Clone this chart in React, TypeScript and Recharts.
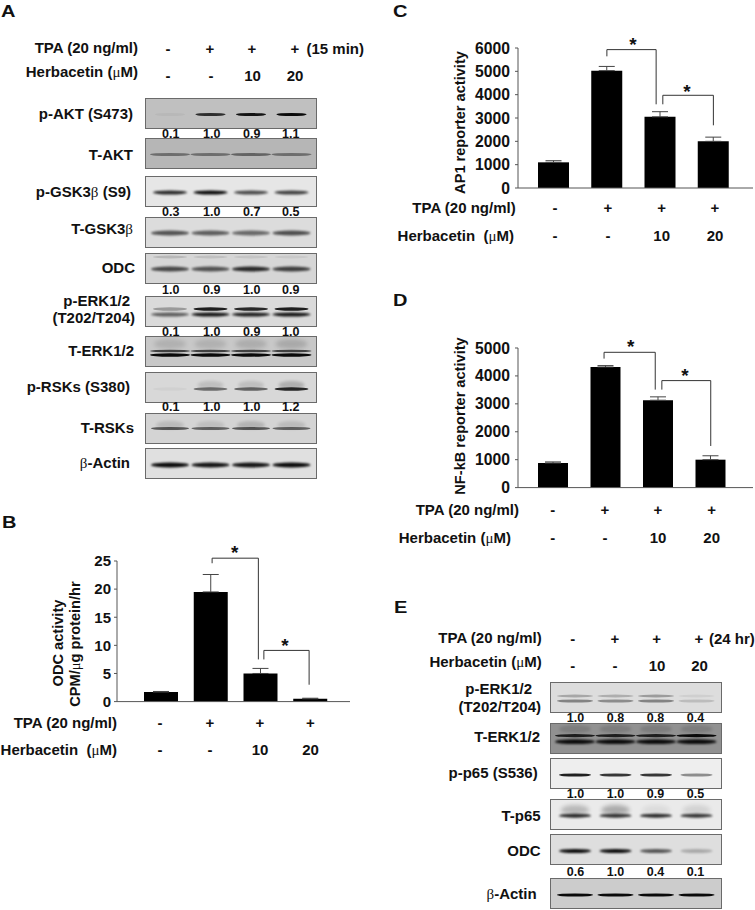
import React from "react";
import { BarChart, Bar, XAxis, YAxis, ErrorBar, ReferenceLine } from "recharts";

const FONT = "'Liberation Sans', Arial, sans-serif";
const lanes = ["Control", "TPA", "TPA+H10", "TPA+H20"];

// ---- Bar chart values ----
const odcValues = [1.7, 19.5, 5, 0.5];
const odcErrors = [0.1, 3.1, 0.9, 0.1];
const ap1Values = [1100, 5030, 3050, 2000];
const ap1Errors = [70, 180, 220, 180];
const nfkbValues = [880, 4320, 3130, 1000];
const nfkbErrors = [40, 50, 120, 140];
const odcTicks = [0, 5, 10, 15, 20, 25];
const ap1Ticks = [0, 1000, 2000, 3000, 4000, 5000, 6000];
const nfkbTicks = [0, 1000, 2000, 3000, 4000, 5000];

// ---- Blot band intensities (0..1 per lane) ----
const aPAkt = [0.04, 0.8, 0.95, 1];
const aTAkt = [0.42, 0.42, 0.48, 0.42];
const aPGsk = [0.85, 1, 0.7, 0.75];
const aTGsk = [0.65, 0.6, 0.55, 0.68];
const aOdc = [0.7, 0.65, 0.85, 0.75];
const aOdcHaze = [0.14, 0.1, 0.08, 0.06];
const aPErkUp = [0.3, 0.9, 0.85, 0.9];
const aPErkLow = [0.6, 0.95, 0.9, 0.95];
const aTErkHaze = [0.12, 0.12, 0.14, 0.16];
const aTErkUp = [0.7, 0.7, 0.7, 0.7];
const aTErkLow = [1, 1, 1, 1];
const aPRsk = [0.03, 0.5, 0.55, 0.85];
const aRskHaze = [0, 0.12, 0.12, 0.2];
const aTRsk = [0.6, 0.55, 0.6, 0.55];
const aTRskHaze = [0.12, 0.1, 0.16, 0.12];
const aActin = [1, 0.95, 0.95, 1];
const ePErkUp = [0.25, 0.22, 0.3, 0.06];
const ePErkLow = [0.42, 0.38, 0.42, 0.15];
const eTErkHaze = [0.15, 0.15, 0.15, 0.15];
const eTErkUp = [0.85, 0.85, 0.85, 1];
const eTErkLow = [1, 1, 1, 1];
const ePP65 = [0.9, 0.8, 0.8, 0.42];
const eTP65 = [0.85, 0.8, 0.85, 0.8];
const eTP65Haze = [0.22, 0.28, 0.06, 0.1];
const eOdc = [1, 1, 0.65, 0.25];
const eActin = [1, 1, 1, 1];

// ---- Densitometry labels ----
const aNums = [
  { y: 133.5, v: ["0.1", "1.0", "0.9", "1.1"] },
  { y: 211.5, v: ["0.3", "1.0", "0.7", "0.5"] },
  { y: 289, v: ["1.0", "0.9", "1.0", "0.9"] },
  { y: 331, v: ["0.1", "1.0", "0.9", "1.0"] },
  { y: 406.7, v: ["0.1", "1.0", "1.0", "1.2"] },
];
const eNums = [
  { y: 717.7, v: ["1.0", "0.8", "0.8", "0.4"] },
  { y: 793.3, v: ["1.0", "1.0", "0.9", "0.5"] },
  { y: 871, v: ["0.6", "1.0", "0.4", "0.1"] },
];

// ---- Blot layout ----
type Band = { vals: number[]; y: number; ry: number; rx: number };
const aBlots: { top: number; bg: string; bands: Band[] }[] = [
  { top: 98.5, bg: "#c0c0c0", bands: [{ vals: aPAkt, y: 15.5, ry: 1.6, rx: 15 }] },
  { top: 139, bg: "#b6b6b6", bands: [{ vals: aTAkt, y: 15.5, ry: 1.6, rx: 20 }] },
  { top: 177, bg: "#e6e6e6", bands: [{ vals: aPGsk, y: 15.5, ry: 2, rx: 17 }] },
  { top: 218, bg: "#dcdcdc", bands: [{ vals: aTGsk, y: 15, ry: 2.5, rx: 19 }] },
  { top: 254, bg: "#d6d6d6", bands: [{ vals: aOdcHaze, y: 3, ry: 1.5, rx: 17 }, { vals: aOdc, y: 15, ry: 2.5, rx: 19 }] },
  { top: 297, bg: "#dadada", bands: [{ vals: aPErkUp, y: 12, ry: 1.7, rx: 17 }, { vals: aPErkLow, y: 17.5, ry: 2, rx: 19 }] },
  { top: 337, bg: "#c8c8c8", bands: [{ vals: aTErkHaze, y: 7, ry: 5, rx: 16 }, { vals: aTErkUp, y: 14, ry: 1.3, rx: 20 }, { vals: aTErkLow, y: 18, ry: 1.7, rx: 20 }] },
  { top: 373, bg: "#d8d8d8", bands: [{ vals: aRskHaze, y: 12, ry: 4, rx: 13 }, { vals: aPRsk, y: 16, ry: 1.8, rx: 17 }] },
  { top: 414, bg: "#d4d4d4", bands: [{ vals: aTRskHaze, y: 11, ry: 4, rx: 14 }, { vals: aTRsk, y: 14.5, ry: 1.6, rx: 19 }] },
  { top: 449, bg: "#e0e0e0", bands: [{ vals: aActin, y: 16, ry: 2.4, rx: 19 }] },
];
const eBlots: { top: number; bg: string; bands: Band[] }[] = [
  { top: 682.5, bg: "#dddddd", bands: [{ vals: ePErkUp, y: 13, ry: 1.5, rx: 18 }, { vals: ePErkLow, y: 18, ry: 1.6, rx: 18 }] },
  { top: 724, bg: "#919191", bands: [{ vals: eTErkHaze, y: 5, ry: 4, rx: 16 }, { vals: eTErkUp, y: 11.7, ry: 1.6, rx: 20 }, { vals: eTErkLow, y: 17.7, ry: 2.4, rx: 20 }] },
  { top: 759, bg: "#eeeeee", bands: [{ vals: ePP65, y: 16, ry: 1.6, rx: 16 }] },
  { top: 800, bg: "#eaeaea", bands: [{ vals: eTP65Haze, y: 10, ry: 5, rx: 14 }, { vals: eTP65, y: 15.7, ry: 2, rx: 16 }] },
  { top: 835, bg: "#dedede", bands: [{ vals: eOdc, y: 16, ry: 2, rx: 16 }] },
  { top: 879, bg: "#cccccc", bands: [{ vals: eActin, y: 16, ry: 1.6, rx: 18 }] },
];

function Blot({ left, top, bg, bands }: { left: number; top: number; bg: string; bands: Band[] }) {
  const W = 170;
  const H = 29;
  const data = lanes.map((l, i) => {
    const row: any = { lane: l };
    bands.forEach((b, j) => (row["b" + j] = b.vals[i]));
    return row;
  });
  return (
    <div style={{ position: "absolute", left, top, width: W, height: H, background: bg, outline: "1px solid #6a6a6a" }}>
      <BarChart width={W} height={H} data={data} margin={{ top: 0, right: 0, bottom: 0, left: 0 }}>
        <XAxis dataKey="lane" hide padding={{ left: 4, right: 4 }} />
        <YAxis hide domain={[0, 1]} />
        {bands.map((b, j) => (
          <Bar
            key={j}
            dataKey={"b" + j}
            stackId="s"
            barSize={30}
            isAnimationActive={false}
            shape={(p: any) => (
              <ellipse
                cx={p.x + p.width / 2}
                cy={b.y}
                rx={b.rx}
                ry={b.ry}
                fill="#0a0a0a"
                opacity={p.payload["b" + j]}
                style={{ filter: `blur(${Math.max(0.6, b.ry * 0.4)}px)` }}
              />
            )}
          />
        ))}
      </BarChart>
    </div>
  );
}

// ---- Bar panels ----
const Seg = (dx: number) => (p: any) => (
  <line x1={p.x1 + dx} y1={p.y1} x2={p.x2 + dx} y2={p.y2} stroke="#333" strokeWidth={1} />
);

function Panel({ left, plotW, top, plotH, vals, errs, ticks, bar, padL, padR, brackets, tickSize, tickGap }: any) {
  const axisW = 60;
  const mTop = 20;
  const mBottom = 12;
  const data = lanes.map((l, i) => ({ lane: l, v: vals[i], e: [0, errs[i]] }));
  const ax = { stroke: "#555", strokeWidth: 1 };
  return (
    <div style={{ position: "absolute", left: left - axisW, top: top - mTop }}>
      <BarChart
        width={axisW + plotW}
        height={mTop + plotH + 2 + mBottom}
        data={data}
        margin={{ top: mTop, right: 0, bottom: mBottom, left: 0 }}
      >
        <XAxis dataKey="lane" height={2} tick={false} tickLine={false} axisLine={ax} padding={{ left: padL, right: padR }} />
        <YAxis
          width={axisW}
          domain={[ticks[0], ticks[ticks.length - 1]]}
          ticks={ticks}
          interval={0}
          tickSize={3}
          tickMargin={tickGap}
          axisLine={ax}
          tickLine={ax}
          tick={{ fontFamily: FONT, fontWeight: 700, fontSize: tickSize, fill: "#111" }}
        />
        <Bar dataKey="v" fill="#000" barSize={bar} isAnimationActive={false}>
          <ErrorBar dataKey="e" direction="y" width={8} stroke="#444" strokeWidth={1} isAnimationActive={false} />
        </Bar>
        {brackets.map((br: any, i: number) => (
          <ReferenceLine
            key={"t" + i}
            segment={[{ x: br.a, y: br.top }, { x: br.b, y: br.top }]}
            ifOverflow="visible"
            shape={(p: any) => (
              <line x1={p.x1 + br.dxA} y1={p.y1} x2={p.x2 + br.dxB} y2={p.y2} stroke="#333" strokeWidth={1} />
            )}
          />
        ))}
        {brackets.map((br: any, i: number) => (
          <ReferenceLine
            key={"l" + i}
            segment={[{ x: br.a, y: br.top }, { x: br.a, y: br.dropA }]}
            ifOverflow="visible"
            shape={Seg(br.dxA)}
          />
        ))}
        {brackets.map((br: any, i: number) => (
          <ReferenceLine
            key={"r" + i}
            segment={[{ x: br.b, y: br.top }, { x: br.b, y: br.dropB }]}
            ifOverflow="visible"
            shape={Seg(br.dxB)}
          />
        ))}
      </BarChart>
    </div>
  );
}

const odcBrackets = [
  { a: lanes[1], b: lanes[2], top: 25.5, dropA: 24.6, dropB: 7.5, dxA: 1.5, dxB: -2 },
  { a: lanes[2], b: lanes[3], top: 9.1, dropA: 7.5, dropB: 3, dxA: 3.5, dxB: -1 },
];
const ap1Brackets = [
  { a: lanes[1], b: lanes[2], top: 5931, dropA: 5643, dropB: 3587, dxA: 0, dxB: -4 },
  { a: lanes[2], b: lanes[3], top: 3973, dropA: 3587, dropB: 2687, dxA: 2.7, dxB: 0 },
];
const nfkbBrackets = [
  { a: lanes[1], b: lanes[2], top: 4846, dropA: 4620, dropB: 3510, dxA: -1.7, dxB: -3 },
  { a: lanes[2], b: lanes[3], top: 3832, dropA: 3510, dropB: 1490, dxA: 3.6, dxB: 0 },
];

// ---- Text helper ----
function T({ x, y, s, a = "start", size = 15, rot }: any) {
  const parts = String(s).split(/([μβ])/);
  const by = y + size * 0.36;
  return (
    <text
      x={x}
      y={by}
      textAnchor={a}
      fontFamily={FONT}
      fontWeight={700}
      fontSize={size}
      fill="#111"
      transform={rot ? `rotate(-90 ${x} ${y})` : undefined}
      xmlSpace="preserve"
    >
      {parts.map((p: string, i: number) =>
        p === "μ" || p === "β" ? (
          <tspan key={i} fontFamily="'Liberation Serif', serif" fontWeight={400}>
            {p}
          </tspan>
        ) : (
          <tspan key={i}>{p}</tspan>
        )
      )}
    </text>
  );
}

function Row({ xs, y, v, size = 15 }: any) {
  return xs.map((x: number, i: number) => <T key={i} x={x} y={y} s={v[i]} a="middle" size={size} />);
}
function Star({ x, y }: any) {
  return (
    <text x={x} y={y + 10} textAnchor="middle" fontFamily={FONT} fontWeight={700} fontSize={19} fill="#111">
      *
    </text>
  );
}
function Letter({ x, y, s }: any) {
  return (
    <text
      x={0}
      y={0}
      transform={`translate(${x} ${y + 7}) scale(1.25 1)`}
      fontFamily={FONT}
      fontWeight={700}
      fontSize={16}
      fill="#111"
    >
      {s}
    </text>
  );
}

const aRowLabels: [string, number, number][] = [
  ["p-AKT (S473)", 133, 114],
  ["T-AKT", 133, 155],
  ["p-GSK3β (S9)", 131, 192],
  ["T-GSK3β", 133, 229],
  ["ODC", 135, 268],
  ["p-ERK1/2", 130, 301],
  ["(T202/T204)", 135, 318],
  ["T-ERK1/2", 134, 351],
  ["p-RSKs (S380)", 130, 387],
  ["T-RSKs", 134, 428],
  ["β-Actin", 130, 463],
];
const eRowLabels: [string, number, number][] = [
  ["p-ERK1/2", 532, 689],
  ["(T202/T204)", 541, 707],
  ["T-ERK1/2", 540, 736.7],
  ["p-p65 (S536)", 537.7, 773],
  ["T-p65", 540.7, 816],
  ["ODC", 540.7, 851],
  ["β-Actin", 536.7, 894],
];

const tpaSigns = ["-", "+", "+", "+"];
const herbSigns = ["-", "-", "10", "20"];

export default function App() {
  return (
    <div style={{ position: "absolute", left: 0, top: 0, width: 755, height: 910, background: "#fff", overflow: "hidden" }}>
      {aBlots.map((b, i) => (
        <Blot key={i} left={146} top={b.top} bg={b.bg} bands={b.bands} />
      ))}
      {eBlots.map((b, i) => (
        <Blot key={i} left={551} top={b.top} bg={b.bg} bands={b.bands} />
      ))}
      <Panel left={117} plotW={233} top={560.7} plotH={140.6} vals={odcValues} errs={odcErrors} ticks={odcTicks} bar={34} padL={19} padR={15} brackets={odcBrackets} tickSize={15} tickGap={3} />
      <Panel left={518} plotW={235} top={47.7} plotH={140} vals={ap1Values} errs={ap1Errors} ticks={ap1Ticks} bar={31} padL={9} padR={13} brackets={ap1Brackets} tickSize={15.7} tickGap={5} />
      <Panel left={518} plotW={235} top={347.7} plotH={139.6} vals={nfkbValues} errs={nfkbErrors} ticks={nfkbTicks} bar={30} padL={9} padR={16} brackets={nfkbBrackets} tickSize={15.7} tickGap={5} />

      <svg width={755} height={910} style={{ position: "absolute", left: 0, top: 0, pointerEvents: "none" }}>
        <Letter x={1} y={10} s="A" />
        <Letter x={2} y={521} s="B" />
        <Letter x={393} y={10} s="C" />
        <Letter x={393} y={299} s="D" />
        <Letter x={394} y={606} s="E" />

        {/* Panel A header */}
        <T x={138} y={48} s="TPA (20 ng/ml)" a="end" />
        <T x={138} y={72} s="Herbacetin (μM)" a="end" />
        <Row xs={[168, 210, 252, 295]} y={48.5} v={tpaSigns} />
        <T x={306.5} y={49} s="(15 min)" />
        <Row xs={[168, 211, 252.5, 295]} y={76} v={herbSigns} />
        {aRowLabels.map(([s, x, y], i) => (
          <T key={i} x={x} y={y} s={s} a="end" />
        ))}
        {aNums.map((n, i) => (
          <Row key={i} xs={[170.7, 211.7, 251.7, 290.7]} y={n.y} v={n.v} size={12.5} />
        ))}

        {/* Panel B */}
        <T x={58} y={643} s="ODC activity" a="middle" rot size={14.6} />
        <T x={75} y={644} s="CPM/μg protein/hr" a="middle" rot size={14.6} />
        <T x={117} y={722.7} s="TPA (20 ng/ml)" a="end" />
        <T x={117} y={750} s="Herbacetin  (μM)" a="end" />
        <Row xs={[160, 210, 260, 310.5]} y={722.7} v={tpaSigns} />
        <Row xs={[160, 210, 260, 310.5]} y={750} v={herbSigns} />
        <Star x={234.7} y={549} />
        <Star x={285} y={642} />

        {/* Panel C */}
        <T x={460} y={122.5} s="AP1 reporter activity" a="middle" rot size={14.6} />
        <T x={515.7} y={208} s="TPA (20 ng/ml)" a="end" />
        <T x={514} y={236} s="Herbacetin  (μM)" a="end" />
        <Row xs={[555, 608, 661.7, 715]} y={208} v={tpaSigns} />
        <Row xs={[555, 608, 661.7, 715]} y={236} v={herbSigns} />
        <Star x={633} y={41} />
        <Star x={687} y={88} />

        {/* Panel D */}
        <T x={460} y={416} s="NF-kB reporter activity" a="middle" rot size={14.6} />
        <T x={519} y={509.3} s="TPA (20 ng/ml)" a="end" />
        <T x={511} y={538} s="Herbacetin (μM)" a="end" />
        <Row xs={[552.7, 605, 658, 711.7]} y={509.3} v={tpaSigns} />
        <Row xs={[552.7, 605, 658, 711.7]} y={538} v={herbSigns} />
        <Star x={630.7} y={343} />
        <Star x={685} y={372} />

        {/* Panel E */}
        <T x={541.7} y={638} s="TPA (20 ng/ml)" a="end" />
        <T x={541.7} y={661.7} s="Herbacetin (μM)" a="end" />
        <Row xs={[572.7, 615, 656.7, 699]} y={638.5} v={tpaSigns} />
        <T x={709} y={638.5} s="(24 hr)" />
        <Row xs={[572.7, 615, 657, 699.5]} y={666} v={herbSigns} />
        {eRowLabels.map(([s, x, y], i) => (
          <T key={i} x={x} y={y} s={s} a="end" />
        ))}
        {eNums.map((n, i) => (
          <Row key={i} xs={[575.5, 615.5, 655.5, 695.5]} y={n.y} v={n.v} size={12.5} />
        ))}
      </svg>
    </div>
  );
}
